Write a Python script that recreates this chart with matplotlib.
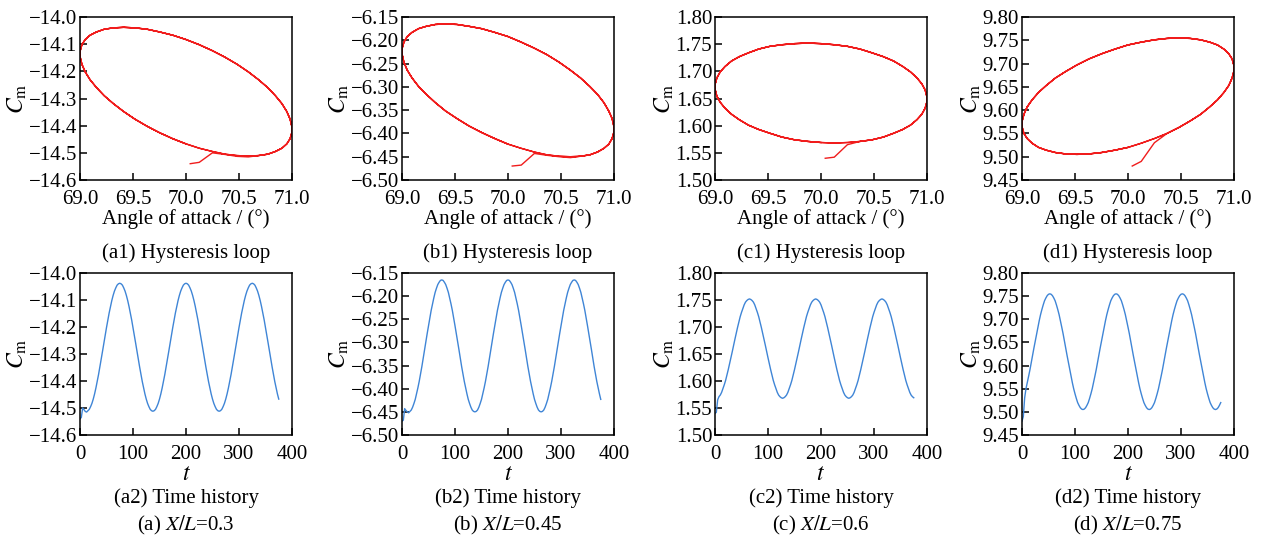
import numpy as np
import matplotlib
matplotlib.use("Agg")
import matplotlib.pyplot as plt
from matplotlib.ticker import MultipleLocator, FuncFormatter

plt.rcParams['font.family'] = ['Liberation Serif', 'DejaVu Serif']
plt.rcParams['mathtext.fontset'] = 'stix'

# muestreo en el tiempo (paso de 2.5), tres ciclos de 50 puntos
t = np.arange(0, 377.5, 2.5)

# angulo de ataque de un ciclo (grados)
alpha_ciclo = [70.000, 70.125, 70.249, 70.368, 70.482, 70.588, 70.685, 70.771, 70.844, 70.905,
               70.951, 70.982, 70.998, 70.998, 70.982, 70.951, 70.905, 70.844, 70.771, 70.685,
               70.588, 70.482, 70.368, 70.249, 70.125, 70.000, 69.875, 69.751, 69.632, 69.518,
               69.412, 69.315, 69.229, 69.156, 69.095, 69.049, 69.018, 69.002, 69.002, 69.018,
               69.049, 69.095, 69.156, 69.229, 69.315, 69.412, 69.518, 69.632, 69.751, 69.875]
alpha_inicio = [70.04]

# Cm de un ciclo ya estable, para cada X/L
a_ciclo = [-14.467, -14.483, -14.495, -14.505, -14.510, -14.512, -14.510, -14.505, -14.495, -14.483,
           -14.467, -14.448, -14.426, -14.402, -14.376, -14.348, -14.319, -14.290, -14.260, -14.231,
           -14.202, -14.174, -14.148, -14.124, -14.102, -14.083, -14.067, -14.055, -14.045, -14.040,
           -14.038, -14.040, -14.045, -14.055, -14.067, -14.083, -14.102, -14.124, -14.148, -14.174,
           -14.202, -14.231, -14.260, -14.290, -14.319, -14.348, -14.376, -14.402, -14.426, -14.448]
b_ciclo = [-6.423, -6.432, -6.440, -6.446, -6.449, -6.450, -6.449, -6.446, -6.440, -6.432,
           -6.423, -6.411, -6.398, -6.384, -6.368, -6.352, -6.334, -6.316, -6.299, -6.281,
           -6.264, -6.247, -6.231, -6.217, -6.204, -6.192, -6.183, -6.175, -6.170, -6.166,
           -6.165, -6.166, -6.170, -6.175, -6.183, -6.192, -6.204, -6.217, -6.231, -6.247,
           -6.264, -6.281, -6.299, -6.316, -6.334, -6.352, -6.368, -6.384, -6.398, -6.411]
c_ciclo = [1.569, 1.568, 1.569, 1.571, 1.574, 1.579, 1.586, 1.593, 1.601, 1.611,
           1.621, 1.632, 1.643, 1.654, 1.666, 1.677, 1.688, 1.699, 1.709, 1.719,
           1.727, 1.734, 1.741, 1.746, 1.749, 1.751, 1.752, 1.751, 1.749, 1.746,
           1.741, 1.734, 1.727, 1.719, 1.709, 1.699, 1.688, 1.677, 1.666, 1.654,
           1.643, 1.632, 1.621, 1.611, 1.601, 1.593, 1.586, 1.579, 1.574, 1.571]
d_ciclo = [9.520, 9.529, 9.539, 9.550, 9.563, 9.577, 9.591, 9.607, 9.622, 9.638,
           9.653, 9.669, 9.683, 9.697, 9.710, 9.721, 9.731, 9.740, 9.746, 9.751,
           9.754, 9.755, 9.754, 9.751, 9.746, 9.740, 9.731, 9.721, 9.710, 9.697,
           9.683, 9.669, 9.653, 9.638, 9.622, 9.607, 9.591, 9.577, 9.563, 9.550,
           9.539, 9.529, 9.520, 9.514, 9.509, 9.506, 9.505, 9.506, 9.509, 9.514]

# transitorio al arrancar
a_inicio = [-14.540, -14.535, -14.500, -14.506, -14.513, -14.515]
b_inicio = [-6.470, -6.468, -6.443, -6.447, -6.450, -6.452]
c_inicio = [1.540, 1.542, 1.565, 1.571]
d_inicio = [9.480, 9.490, 9.530, 9.550]


def serie(inicio, ciclo):
    return inicio + ciclo[len(inicio):] + ciclo + ciclo + ciclo[:1]


alpha = serie(alpha_inicio, alpha_ciclo)
series = [serie(a_inicio, a_ciclo), serie(b_inicio, b_ciclo),
          serie(c_inicio, c_ciclo), serie(d_inicio, d_ciclo)]

letras = ["a", "b", "c", "d"]
xl = ["0.3", "0.45", "0.6", "0.75"]
ylims = [(-14.6, -14.0), (-6.50, -6.15), (1.50, 1.80), (9.45, 9.80)]
ypasos = [0.1, 0.05, 0.05, 0.05]
yformatos = ["%.1f", "%.2f", "%.2f", "%.2f"]

W, H = 1262, 542
izq = [80, 402, 715, 1022]
ancho = 212
fs = 15


def formato(fmt):
    return FuncFormatter(lambda v, p: (fmt % v).replace("-", "\u2212"))


def estilo(ax):
    for s in ax.spines.values():
        s.set_linewidth(1.1)
    ax.tick_params(direction="in", length=5, width=1.1, labelsize=fs, top=False, right=False)
    ax.tick_params(axis="x", pad=7.5)
    ax.tick_params(axis="y", pad=2)


fig = plt.figure(figsize=(W / 100, H / 100), dpi=100)

for i in range(4):
    # lazo de histeresis
    ax1 = fig.add_axes([izq[i] / W, 1 - 180 / H, ancho / W, 163 / H])
    ax1.plot(alpha, series[i], color="#f01c1c", lw=1.0)
    ax1.set_xlim(69, 71)
    ax1.set_ylim(*ylims[i])
    ax1.xaxis.set_major_locator(MultipleLocator(0.5))
    ax1.xaxis.set_major_formatter(formato("%.1f"))
    ax1.yaxis.set_major_locator(MultipleLocator(ypasos[i]))
    ax1.yaxis.set_major_formatter(formato(yformatos[i]))
    ax1.set_xlabel("Angle of attack / (°)", fontsize=fs, labelpad=0)
    ax1.set_ylabel(r"$C_{\rm m}$", fontsize=fs + 2, labelpad=0)
    estilo(ax1)

    # historia temporal
    ax2 = fig.add_axes([izq[i] / W, 1 - 435 / H, ancho / W, 162 / H])
    ax2.plot(t, series[i], color="#3f85d6", lw=1.0)
    ax2.set_xlim(0, 400)
    ax2.set_ylim(*ylims[i])
    ax2.xaxis.set_major_locator(MultipleLocator(100))
    ax2.xaxis.set_major_formatter(formato("%d"))
    ax2.yaxis.set_major_locator(MultipleLocator(ypasos[i]))
    ax2.yaxis.set_major_formatter(formato(yformatos[i]))
    ax2.set_xlabel(r"$t$", fontsize=fs + 2, labelpad=0)
    ax2.set_ylabel(r"$C_{\rm m}$", fontsize=fs + 2, labelpad=0)
    estilo(ax2)

    cx = (izq[i] + ancho / 2) / W
    fig.text(cx, 1 - 253 / H, "(%s1) Hysteresis loop" % letras[i], ha="center", va="center", fontsize=fs)
    fig.text(cx, 1 - 498 / H, "(%s2) Time history" % letras[i], ha="center", va="center", fontsize=fs)
    fig.text(cx, 1 - 525 / H, r"(%s) $X/L$=%s" % (letras[i], xl[i]), ha="center", va="center", fontsize=fs)

fig.savefig("out.png", dpi=100)
